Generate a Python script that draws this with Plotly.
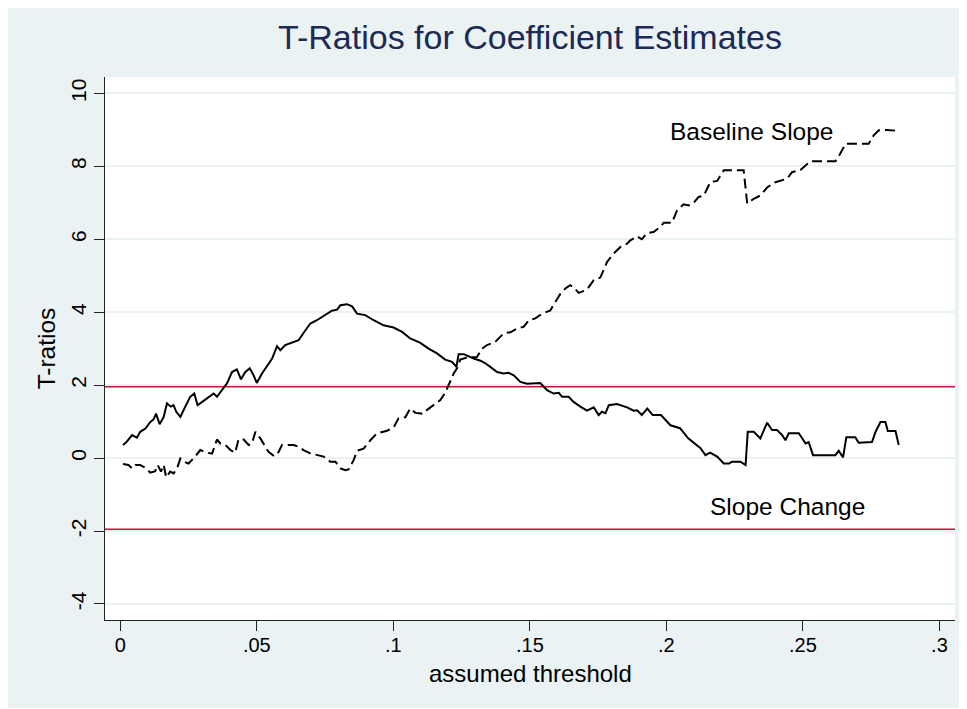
import plotly.graph_objects as go

# t-ratio of the slope change term, by assumed threshold
change_x = [0.001, 0.0024, 0.0043, 0.0061, 0.0073, 0.0092, 0.011, 0.0122, 0.0131, 0.0144,
            0.0159, 0.0171, 0.0185, 0.0195, 0.0205, 0.022, 0.0238, 0.0256, 0.0271, 0.0283,
            0.0305, 0.0324, 0.0342, 0.0354, 0.0372, 0.0391, 0.0409, 0.0427, 0.0442, 0.0458,
            0.0474, 0.0488, 0.05, 0.0519, 0.0537, 0.0556, 0.0574, 0.0586, 0.0604, 0.0629,
            0.0653, 0.0671, 0.0696, 0.072, 0.0745, 0.0775, 0.0794, 0.0806, 0.083, 0.0849,
            0.0867, 0.0897, 0.0928, 0.0964, 0.1001, 0.1032, 0.1062, 0.1099, 0.1129, 0.116,
            0.119, 0.1215, 0.1231, 0.1239, 0.1258, 0.1276, 0.1294, 0.1319, 0.1337, 0.1355,
            0.138, 0.1404, 0.1422, 0.1441, 0.1465, 0.149, 0.1514, 0.1538, 0.1563, 0.1587,
            0.1606, 0.1618, 0.1642, 0.166, 0.1685, 0.1709, 0.1734, 0.1752, 0.1764, 0.1777,
            0.1789, 0.1819, 0.1856, 0.188, 0.1893, 0.191, 0.193, 0.195, 0.198, 0.2015,
            0.205, 0.208, 0.2125, 0.2143, 0.216, 0.2186, 0.221, 0.223, 0.224, 0.2271,
            0.229, 0.2298, 0.232, 0.2344, 0.2369, 0.2387, 0.2405, 0.2424, 0.2436, 0.2448,
            0.2485, 0.251, 0.2521, 0.2537, 0.2619, 0.2631, 0.2647, 0.2659, 0.2692, 0.2704,
            0.2753, 0.2766, 0.2784, 0.2802, 0.2811, 0.2839, 0.2851]
change_t = [0.36, 0.45, 0.63, 0.56, 0.72, 0.81, 0.99, 1.06, 1.22, 0.93,
            1.13, 1.5, 1.41, 1.45, 1.27, 1.13, 1.41, 1.68, 1.77, 1.45,
            1.57, 1.68, 1.77, 1.68, 1.86, 2.05, 2.36, 2.43, 2.16, 2.36,
            2.46, 2.27, 2.06, 2.32, 2.52, 2.73, 3.07, 2.96, 3.1, 3.16,
            3.23, 3.43, 3.69, 3.78, 3.89, 4.04, 4.07, 4.19, 4.22, 4.16,
            3.96, 3.92, 3.78, 3.64, 3.58, 3.46, 3.28, 3.16, 3.0, 2.87,
            2.7, 2.64, 2.5, 2.85, 2.85, 2.79, 2.73, 2.67, 2.6, 2.5,
            2.36, 2.32, 2.34, 2.27, 2.09, 2.04, 2.06, 2.06, 1.86, 1.77,
            1.79, 1.68, 1.68, 1.54, 1.41, 1.3, 1.39, 1.18, 1.27, 1.23,
            1.45, 1.48, 1.39, 1.3, 1.31, 1.18, 1.36, 1.18, 1.18, 0.9,
            0.82, 0.54, 0.27, 0.08, 0.15, 0.04, -0.15, -0.15, -0.1, -0.1,
            -0.19, 0.72, 0.72, 0.54, 0.97, 0.77, 0.77, 0.63, 0.49, 0.68,
            0.68, 0.4, 0.44, 0.08, 0.08, 0.2, 0.02, 0.57, 0.57, 0.42,
            0.44, 0.72, 0.99, 0.99, 0.74, 0.74, 0.36]

# t-ratio of the baseline slope term
base_x = [0.001, 0.003, 0.0043, 0.0055, 0.0073, 0.0092, 0.011, 0.0128, 0.0137, 0.0149,
          0.0159, 0.0168, 0.0183, 0.0195, 0.0208, 0.022, 0.0234, 0.025, 0.0275, 0.0293,
          0.0317, 0.0336, 0.0354, 0.0366, 0.0385, 0.0403, 0.0421, 0.0433, 0.0452, 0.047,
          0.0482, 0.0495, 0.0513, 0.0527, 0.0543, 0.0564, 0.058, 0.0592, 0.0617, 0.0635,
          0.0653, 0.0671, 0.0696, 0.072, 0.0745, 0.0769, 0.0788, 0.0806, 0.0824, 0.0836,
          0.0855, 0.0867, 0.0891, 0.0916, 0.094, 0.0977, 0.1001, 0.1019, 0.1044, 0.1062,
          0.1081, 0.1105, 0.1129, 0.1154, 0.1172, 0.119, 0.1203, 0.1221, 0.1233, 0.1245,
          0.127, 0.1306, 0.1325, 0.1343, 0.1374, 0.1404, 0.1429, 0.1453, 0.1477, 0.1496,
          0.152, 0.1545, 0.1575, 0.1593, 0.1612, 0.163, 0.1648, 0.1661, 0.1679, 0.1709,
          0.1734, 0.1758, 0.1783, 0.1807, 0.1832, 0.1856, 0.1868, 0.1893, 0.191, 0.1929,
          0.1953, 0.1978, 0.199, 0.202, 0.2039, 0.2063, 0.2082, 0.21, 0.2118, 0.2137,
          0.2161, 0.2186, 0.221, 0.2283, 0.2296, 0.232, 0.2344, 0.2369, 0.2393, 0.2442,
          0.246, 0.2491, 0.2509, 0.2527, 0.2619, 0.2637, 0.2656, 0.2741, 0.2759, 0.2778,
          0.2808, 0.2851]
base_t = [-0.16, -0.19, -0.28, -0.19, -0.19, -0.27, -0.4, -0.36, -0.19, -0.37,
          -0.19, -0.53, -0.37, -0.42, -0.28, -0.01, -0.1, -0.15, 0.05, 0.22,
          0.15, 0.12, 0.51, 0.4, 0.36, 0.22, 0.15, 0.51, 0.51, 0.36,
          0.4, 0.72, 0.54, 0.38, 0.17, 0.05, 0.17, 0.36, 0.36, 0.36,
          0.31, 0.22, 0.13, 0.08, 0.04, -0.1, -0.1, -0.28, -0.33, -0.31,
          -0.05, 0.2, 0.26, 0.49, 0.68, 0.75, 0.84, 1.09, 1.12, 1.36,
          1.24, 1.22, 1.36, 1.5, 1.59, 1.79, 2.0, 2.32, 2.46, 2.7,
          2.76, 2.77, 3.0, 3.1, 3.19, 3.42, 3.45, 3.55, 3.6, 3.78,
          3.83, 3.96, 4.05, 4.28, 4.51, 4.65, 4.74, 4.68, 4.53, 4.62,
          4.88, 4.95, 5.38, 5.61, 5.79, 5.88, 5.97, 6.08, 6.0, 6.17,
          6.2, 6.34, 6.45, 6.45, 6.79, 6.96, 6.93, 7.0, 7.16, 7.2,
          7.57, 7.6, 7.89, 7.89, 6.98, 7.11, 7.2, 7.42, 7.55, 7.66,
          7.84, 7.9, 8.03, 8.14, 8.14, 8.35, 8.62, 8.62, 8.85, 8.99,
          9.0, 8.97]

# 5% critical values
crit_vals = [1.96, -1.96]

x_ticks = [0, 0.05, 0.1, 0.15, 0.2, 0.25, 0.3]
x_labels = ['0', '.05', '.1', '.15', '.2', '.25', '.3']
y_ticks = [-4, -2, 0, 2, 4, 6, 8, 10]
y_labels = ['-4', '-2', '0', '2', '4', '6', '8', '10']

BG = '#EAF2F3'
FONT = 'Liberation Sans, Arial, sans-serif'

fig = go.Figure()
fig.add_trace(go.Scatter(x=change_x, y=change_t, mode='lines', name='Slope Change',
                         line=dict(color='black', width=2)))
fig.add_trace(go.Scatter(x=base_x, y=base_t, mode='lines', name='Baseline Slope',
                         line=dict(color='black', width=2, dash='10px,5px')))

for c in crit_vals:
    fig.add_hline(y=c, line=dict(color='#C8103A', width=2), layer='below')

fig.add_annotation(x=0.2311, y=8.96, text='Baseline Slope', showarrow=False,
                   font=dict(size=24.5, color='black', family=FONT))
fig.add_annotation(x=0.2443, y=-1.32, text='Slope Change', showarrow=False,
                   font=dict(size=24.5, color='black', family=FONT))
# x axis title placed by hand, plotly's standoff can't get it close enough
fig.add_annotation(x=0.5, y=-0.0994, xref='paper', yref='paper', yanchor='middle',
                   text='assumed threshold', showarrow=False,
                   font=dict(size=24, color='black', family=FONT))

fig.update_layout(
    width=959, height=700,
    margin=dict(l=97, r=12, t=69, b=88),
    paper_bgcolor=BG,
    plot_bgcolor='white',
    showlegend=False,
    font=dict(family=FONT, color='black'),
    title=dict(text='T-Ratios for Coefficient Estimates', x=0.5, xref='paper', xanchor='center',
               y=0.959, yanchor='middle', yref='container',
               font=dict(size=34, color='#1C2A55', family=FONT)),
)

fig.update_xaxes(
    range=[-0.0056, 0.3057], tickvals=x_ticks, ticktext=x_labels,
    showgrid=False, zeroline=False, showline=True, linecolor='#222', linewidth=1,
    ticks='outside', ticklen=10, tickcolor='#222', tickwidth=1,
    tickfont=dict(size=20), ticklabelstandoff=-3,
)
fig.update_yaxes(
    range=[-4.44, 10.45], tickvals=y_ticks, ticktext=y_labels, tickangle=-90,
    showgrid=True, gridcolor=BG, gridwidth=1.5, zeroline=False,
    showline=True, linecolor='#222', linewidth=1,
    ticks='outside', ticklen=10, tickcolor='#222', tickwidth=1,
    tickfont=dict(size=21), ticklabelstandoff=0,
    title=dict(text='T-ratios', font=dict(size=24.5), standoff=4),
)

fig.write_html("out.html")
